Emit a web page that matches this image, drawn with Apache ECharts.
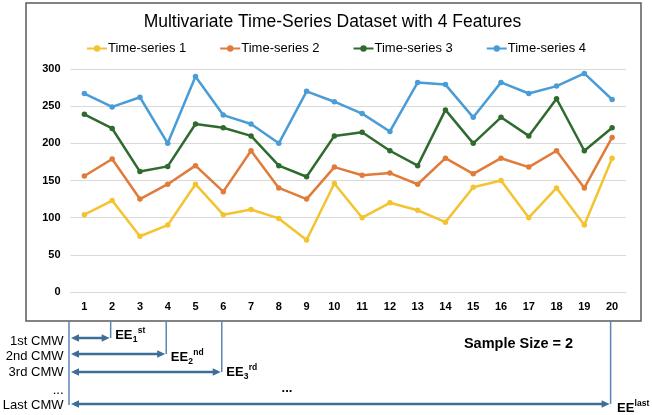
<!DOCTYPE html>
<html>
<head>
<meta charset="utf-8">
<script src="https://cdn.jsdelivr.net/npm/echarts@6/dist/echarts.min.js"></script>
<style>
html,body{margin:0;padding:0;background:#fff;}
#c{width:652px;height:415px;}
</style>
</head>
<body>
<div id="c"></div>
<script>
const categories = ['1','2','3','4','5','6','7','8','9','10','11','12','13','14','15','16','17','18','19','20'];
const seriesNames = ['Time-series 1','Time-series 2','Time-series 3','Time-series 4'];
const ts1 = [104,123,75,90,145,104,111,99,70,146,100,120,110,94,141,150,100,140,90,180];
const ts2 = [156,179,125,145,170,135,190,140,125,168,157,160,145,180,159,180,168,190,140,208];
const ts3 = [239,220,162,169,226,221,210,170,155,210,215,190,170,245,200,235,210,260,190,221];
const ts4 = [267,249,262,200,290,238,226,200,270,256,240,216,282,279,235,282,267,277,294,259];
const yTicks = [0,50,100,150,200,250,300];
const windowEnds = ['2','4','6','20'];
const windowLabels = ['1st CMW','2nd CMW','3rd CMW','...','Last CMW'];
const eeSub = ['1','2','3'];
const eeSup = ['st','nd','rd'];
const titleText = 'Multivariate Time-Series Dataset with 4 Features';
const sampleText = 'Sample Size = 2';

const colors = ['#F4C330','#E07B39','#2F6A2F','#4A9CD6'];
const FONT = 'Liberation Sans, Arial, sans-serif';
const gridLeft = 70.5, gridRight = 26, gridTop = 69, gridBottom = 123;

const chart = echarts.init(document.getElementById('c'), null, {renderer:'canvas'});
const allData = [ts1, ts2, ts3, ts4];

chart.setOption({
  animation:false,
  textStyle:{fontFamily:FONT},
  color: colors,
  legend:{
    left:86, top:42, padding:0, itemWidth:20, itemHeight:8, itemGap:33,
    textStyle:{fontSize:13, color:'#000', fontFamily:FONT, padding:[0,0,0,-4]},
    data: seriesNames
  },
  grid:{left:gridLeft, right:gridRight, top:gridTop, bottom:gridBottom},
  xAxis:{
    type:'category', data:categories, boundaryGap:true,
    axisLine:{show:true, lineStyle:{color:'#d9d9d9', width:1}},
    axisTick:{show:false},
    axisLabel:{fontSize:11, fontWeight:'bold', color:'#000', margin:9, fontFamily:FONT, interval:0}
  },
  yAxis:{
    type:'value', min:yTicks[0], max:yTicks[yTicks.length-1], interval:50,
    axisLine:{show:false}, axisTick:{show:false},
    splitLine:{lineStyle:{color:'#d9d9d9', width:1}},
    axisLabel:{fontSize:11, fontWeight:'bold', color:'#000', margin:10, fontFamily:FONT}
  },
  series: allData.map((d,i)=>({
    name: seriesNames[i], type:'line', data:d,
    symbol:'circle', symbolSize:5.5,
    lineStyle:{width:2.5, color:colors[i]},
    itemStyle:{color:colors[i]}
  }))
});

// annotations
const px = c => chart.convertToPixel({xAxisIndex:0}, c);
const leftX = gridLeft - 1.5;
const boxTop = 3, boxBottom = 321, boxLeft = 26, boxRight = 641;
const arrowY = [338, 354, 372, 404];
const labelY = [341, 356, 372, 390, 405];
const arrowColor = '#3E6D97';
const vColor = '#5A86B5';
const g = [];

g.push({type:'rect', shape:{x:boxLeft, y:boxTop, width:boxRight-boxLeft, height:boxBottom-boxTop},
  style:{fill:'none', stroke:'#5a5a5a', lineWidth:1.5}, z:100, silent:true});
g.push({type:'text', x:332.5, y:22, style:{text:titleText, fontSize:17.5, fontFamily:FONT, fill:'#000', align:'center', verticalAlign:'middle'}, z:100});

// left vertical line
g.push({type:'line', shape:{x1:leftX, y1:boxBottom, x2:leftX, y2:arrowY[3]+1}, style:{stroke:vColor, lineWidth:1.5}, z:100});

windowEnds.forEach((c,i)=>{
  const x = px(c) - 1.5;
  const y = arrowY[i];
  g.push({type:'line', shape:{x1:x, y1:boxBottom, x2:x, y2:y}, style:{stroke:vColor, lineWidth:1.5}, z:100});
  const l = leftX + 2, r = x - 1;
  g.push({type:'line', shape:{x1:l+5, y1:y, x2:r-5, y2:y}, style:{stroke:arrowColor, lineWidth:2.5}, z:101});
  g.push({type:'polygon', shape:{points:[[l,y],[l+8,y-3.8],[l+8,y+3.8]]}, style:{fill:arrowColor}, z:101});
  g.push({type:'polygon', shape:{points:[[r,y],[r-8,y-3.8],[r-8,y+3.8]]}, style:{fill:arrowColor}, z:101});
});

windowLabels.forEach((t,i)=>{
  g.push({type:'text', x:63.5, y:labelY[i], style:{text:t, fontSize:13, fontFamily:FONT, fill:'#000', align:'right', verticalAlign:'middle'}, z:100});
});

// EE labels
const eeY = [335, 357, 372];
windowEnds.slice(0,3).forEach((c,i)=>{
  const x = px(c) + 3;
  const y = eeY[i];
  g.push({type:'text', x:x, y:y, style:{text:'EE', fontSize:13, fontWeight:'bold', fontFamily:FONT, fill:'#000', align:'left', verticalAlign:'middle'}, z:100});
  g.push({type:'text', x:x+17.5, y:y+4.5, style:{text:eeSub[i], fontSize:8.5, fontWeight:'bold', fontFamily:FONT, fill:'#000', align:'left', verticalAlign:'middle'}, z:100});
  g.push({type:'text', x:x+22.5, y:y-4.5, style:{text:eeSup[i], fontSize:8.5, fontWeight:'bold', fontFamily:FONT, fill:'#000', align:'left', verticalAlign:'middle'}, z:100});
});
{
  const x = px('20') + 5, y = 408;
  g.push({type:'text', x:x, y:y, style:{text:'EE', fontSize:13, fontWeight:'bold', fontFamily:FONT, fill:'#000', align:'left', verticalAlign:'middle'}, z:100});
  g.push({type:'text', x:x+17.5, y:y-4, style:{text:'last', fontSize:8.5, fontWeight:'bold', fontFamily:FONT, fill:'#000', align:'left', verticalAlign:'middle'}, z:100});
}
g.push({type:'text', x:287, y:388, style:{text:'...', fontSize:13, fontWeight:'bold', fontFamily:FONT, fill:'#000', align:'center', verticalAlign:'middle'}, z:100});
g.push({type:'text', x:518.5, y:343.5, style:{text:sampleText, fontSize:14.5, fontWeight:'bold', fontFamily:FONT, fill:'#000', align:'center', verticalAlign:'middle'}, z:100});

chart.setOption({graphic:{elements:g}});
</script>
</body>
</html>
